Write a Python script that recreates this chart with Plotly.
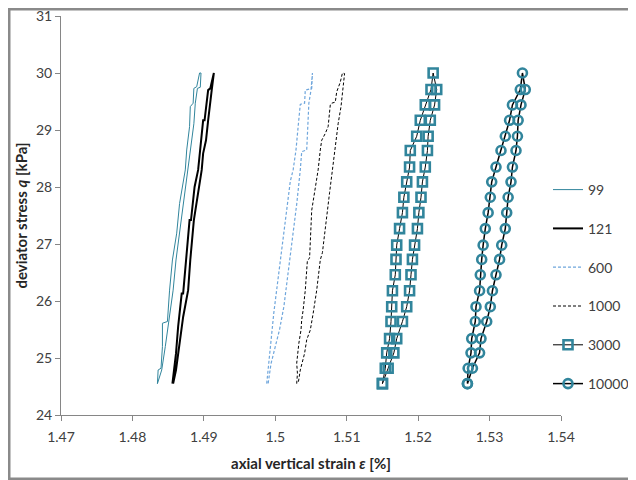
import plotly.graph_objects as go

# ---------------- data ----------------
# cycle 99 (thin teal line) - closed loop: loading branch up, unloading branch down
E_99 = [1.4835, 1.4836, 1.4840, 1.4842, 1.4842, 1.4849, 1.4852, 1.4856, 1.4862, 1.4866,
        1.4874, 1.4876, 1.4880, 1.4881, 1.4885, 1.4886, 1.4890, 1.4894,
        1.4896, 1.4895, 1.4891, 1.4888, 1.4886, 1.4883, 1.4881, 1.4878, 1.4872, 1.4866,
        1.4861, 1.4857, 1.4854, 1.4850, 1.4846, 1.4841, 1.4835]
Q_99 = [24.55, 24.79, 24.82, 25.20, 25.61, 25.64, 26.19, 26.72, 27.19, 27.71,
        28.30, 28.65, 29.06, 29.41, 29.47, 29.73, 29.76, 30.00,
        30.00, 29.75, 29.73, 29.47, 29.11, 28.82, 28.65, 28.30, 27.77, 27.19,
        26.72, 26.19, 25.90, 25.61, 25.20, 24.79, 24.55]

# cycle 121 (thick black line)
E_121 = [1.4856, 1.4861, 1.4864, 1.4869, 1.4871, 1.4875, 1.4880, 1.4882, 1.4887, 1.4892,
         1.4895, 1.4899, 1.4901, 1.4904, 1.4906, 1.4909, 1.4913,
         1.4914, 1.4911, 1.4908, 1.4906, 1.4903, 1.4899, 1.4897, 1.4893, 1.4886, 1.4881,
         1.4878, 1.4871, 1.4864, 1.4861, 1.4857]
Q_121 = [24.55, 25.08, 25.55, 26.13, 26.13, 26.72, 27.42, 27.42, 28.00, 28.30,
         28.70, 29.17, 29.17, 29.46, 29.70, 29.73, 30.00,
         30.00, 29.70, 29.41, 29.17, 28.82, 28.59, 28.30, 28.00, 27.42, 26.72,
         26.19, 25.72, 25.08, 24.79, 24.55]

# cycle 600 (light blue dashed)
E_600 = [1.4988, 1.4990, 1.4992, 1.4995, 1.4998, 1.5002, 1.5007, 1.5011, 1.5016, 1.5021,
         1.5025, 1.5029, 1.5032, 1.5035, 1.5041, 1.5042, 1.5051, 1.5052,
         1.5050, 1.5047, 1.5045, 1.5044, 1.5037, 1.5035, 1.5030, 1.5025, 1.5020, 1.5016,
         1.5012, 1.5006, 1.5000, 1.4994, 1.4990]
Q_600 = [24.55, 24.80, 25.10, 25.45, 25.80, 26.20, 26.70, 27.20, 27.70, 28.10,
         28.30, 28.65, 29.06, 29.45, 29.47, 29.70, 29.73, 30.00,
         29.70, 29.47, 29.06, 28.65, 28.62, 28.30, 27.70, 27.20, 26.70, 26.20,
         25.90, 25.50, 25.20, 24.90, 24.55]

# cycle 1000 (black dashed)
E_1000 = [1.5030, 1.5031, 1.5030, 1.5031, 1.5033, 1.5036, 1.5037, 1.5039, 1.5042, 1.5045,
          1.5048, 1.5051, 1.5056, 1.5060, 1.5063, 1.5065, 1.5070, 1.5074, 1.5077, 1.5079,
          1.5084, 1.5086, 1.5091, 1.5094,
          1.5097, 1.5094, 1.5092, 1.5088, 1.5086, 1.5084, 1.5080, 1.5076, 1.5073, 1.5070,
          1.5066, 1.5063, 1.5058, 1.5053, 1.5049, 1.5044, 1.5041, 1.5035, 1.5032]
Q_1000 = [24.55, 24.73, 24.91, 25.08, 25.26, 25.49, 25.67, 25.84, 26.19, 26.72,
          26.75, 27.59, 28.00, 28.30, 28.65, 28.82, 28.94, 29.06, 29.44, 29.47,
          29.49, 29.67, 29.84, 30.00,
          29.99, 29.64, 29.41, 29.11, 28.88, 28.65, 28.30, 27.90, 27.59, 27.30,
          26.85, 26.72, 26.19, 25.78, 25.49, 25.32, 25.08, 24.79, 24.55]

# stress levels of the marked points (cycles 3000 and 10000), bottom to top
Q_LEVELS = [24.55, 24.82, 25.09, 25.34, 25.64, 25.90, 26.18, 26.46, 26.73, 26.98,
            27.27, 27.55, 27.82, 28.09, 28.35, 28.64, 28.89, 29.17, 29.44, 29.71, 30.00]

# cycle 3000: loading branch (bottom->top) and unloading branch (top->bottom, below top point)
E_3000_UP = [1.5150, 1.5154, 1.5156, 1.5160, 1.5162, 1.5163, 1.5164, 1.5168, 1.5169, 1.5170,
             1.5174, 1.5178, 1.5180, 1.5184, 1.5188, 1.5189, 1.5198, 1.5203, 1.5210, 1.5218,
             1.5221]
E_3000_DOWN = [1.5226, 1.5223, 1.5217, 1.5214, 1.5213, 1.5210, 1.5206, 1.5204, 1.5201, 1.5199,
               1.5195, 1.5192, 1.5190, 1.5188, 1.5184, 1.5178, 1.5170, 1.5166, 1.5158, 1.5150]

# cycle 10000
E_10000_UP = [1.5269, 1.5270, 1.5274, 1.5275, 1.5280, 1.5281, 1.5286, 1.5287, 1.5289, 1.5291,
              1.5294, 1.5298, 1.5301, 1.5303, 1.5309, 1.5316, 1.5322, 1.5328, 1.5332, 1.5343,
              1.5346]
E_10000_DOWN = [1.5350, 1.5344, 1.5340, 1.5339, 1.5337, 1.5332, 1.5330, 1.5326, 1.5324, 1.5322,
                1.5317, 1.5314, 1.5309, 1.5304, 1.5301, 1.5296, 1.5288, 1.5286, 1.5276, 1.5269]

X_TICKS = [1.47, 1.48, 1.49, 1.50, 1.51, 1.52, 1.53, 1.54]
X_TICKTEXT = ["1.47", "1.48", "1.49", "1.5", "1.51", "1.52", "1.53", "1.54"]
Y_TICKS = [24, 25, 26, 27, 28, 29, 30, 31]

# ---------------- figure ----------------
TEAL = "#31859C"
BLUE = "#6FA6DC"
GRAY = "#868686"
FONT = "Lato, Carlito, Calibri, sans-serif"

q_down = Q_LEVELS[-2::-1]

fig = go.Figure()
fig.add_trace(go.Scatter(x=E_99, y=Q_99, mode="lines", name="99", legendgroup="a",
                         line=dict(color=TEAL, width=1)))
fig.add_trace(go.Scatter(x=E_121, y=Q_121, mode="lines", name="121", legendgroup="b",
                         line=dict(color="black", width=2)))
fig.add_trace(go.Scatter(x=E_600, y=Q_600, mode="lines", name="600", legendgroup="c",
                         line=dict(color=BLUE, width=1.2, dash="3px,2px")))
fig.add_trace(go.Scatter(x=E_1000, y=Q_1000, mode="lines", name="1000", legendgroup="d",
                         line=dict(color="black", width=1, dash="3px,2px")))
fig.add_trace(go.Scatter(x=E_3000_UP + E_3000_DOWN, y=Q_LEVELS + q_down,
                         mode="lines+markers", name="3000", legendgroup="e",
                         line=dict(color="black", width=1),
                         marker=dict(symbol="square-open", size=9, color=TEAL,
                                     line=dict(color=TEAL, width=2.6))))
fig.add_trace(go.Scatter(x=E_10000_UP + E_10000_DOWN, y=Q_LEVELS + q_down,
                         mode="lines+markers", name="10000", legendgroup="f",
                         line=dict(color="black", width=1.5),
                         marker=dict(symbol="circle-open", size=9, color=TEAL,
                                     line=dict(color=TEAL, width=2.6))))

# The page body adds an 8 px offset; the figure is sized so that the plot area
# lands where it is in the reference (x 61..561, y 16..415 in the window).
OFF = 8
W, H = 636 - OFF, 480 - OFF
L, T = 61 - OFF, 16 - OFF
R, B = W - (561 - OFF), H - (415 - OFF)
PW, PH = W - L - R, H - T - B


def px_x(page_x):
    return (page_x - OFF - L) / PW


def px_y(page_y):
    return (H - B - (page_y - OFF)) / PH


fig.update_layout(
    width=W, height=H,
    margin=dict(l=L, r=R, t=T, b=B, autoexpand=False),
    plot_bgcolor="white", paper_bgcolor="white",
    font=dict(family=FONT, size=14, color="#404040"),
    showlegend=True,
    legend=dict(x=px_x(548), xanchor="left", y=px_y(174), yanchor="top",
                bgcolor="rgba(0,0,0,0)", traceorder="grouped", tracegroupgap=17.6,
                font=dict(family=FONT, size=14, color="#404040")),
    xaxis=dict(range=[1.47, 1.54], tickvals=X_TICKS, ticktext=X_TICKTEXT,
               showline=True, linecolor=GRAY, linewidth=1, ticks="outside", ticklen=5,
               tickcolor=GRAY, showgrid=False, zeroline=False, ticklabelstandoff=4,
               ticklabeloverflow="allow", automargin=False,
               title=dict(text="<b>axial vertical strain <i>ε</i> [%]</b>",
                          font=dict(family=FONT, size=15, color="#262626"), standoff=14)),
    yaxis=dict(range=[24, 31], tickvals=Y_TICKS,
               showline=True, linecolor=GRAY, linewidth=1, ticks="outside", ticklen=5,
               tickcolor=GRAY, showgrid=False, zeroline=False, ticklabeloverflow="allow",
               automargin=False,
               title=dict(text="<b>deviator stress <i>q</i> [kPa]</b>",
                          font=dict(family=FONT, size=15, color="#262626"), standoff=4)),
    shapes=[dict(type="rect", xref="paper", yref="paper",
                 x0=px_x(OFF + 1.25), x1=px_x(634.75),
                 y0=px_y(478.75), y1=px_y(OFF + 1.25),
                 line=dict(color="#8a8a8a", width=2.5), fillcolor="rgba(0,0,0,0)")],
)

fig.write_html("out.html")
